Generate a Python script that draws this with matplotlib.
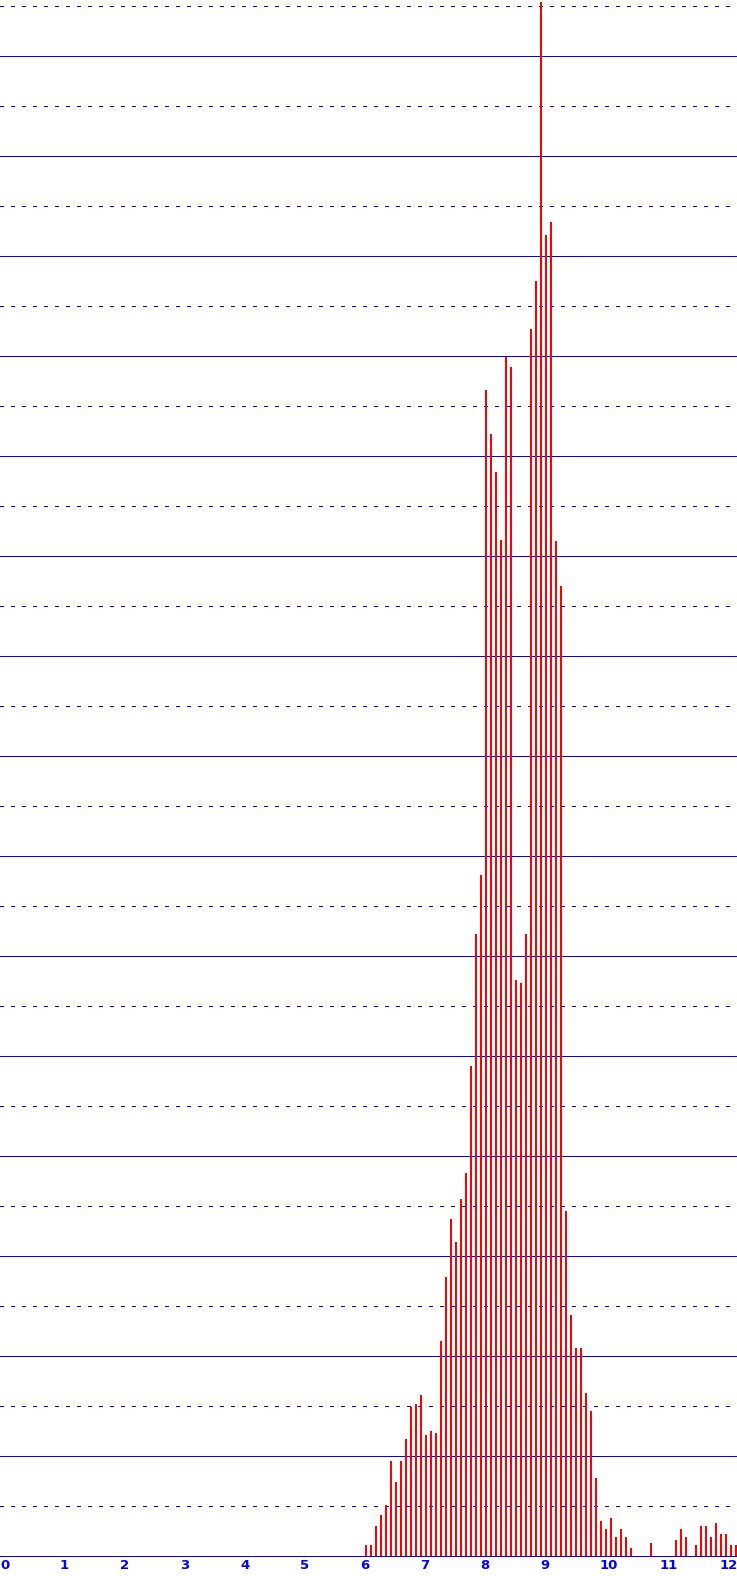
import numpy as np
import matplotlib
matplotlib.use("Agg")
import matplotlib.pyplot as plt

# ---- data ----
bin_start = 6.1
bin_width = 1 / 12
counts = [2.2, 2.2, 6.0, 8.2, 10.2, 19.0, 14.8, 19.0, 23.4, 29.8,
          30.4, 32.2, 24.2, 25.0, 24.6, 43.0, 55.8, 67.4, 62.8, 71.4,
          76.6, 98.0, 124.4, 136.2, 233.2, 224.4, 216.8, 203.2, 239.8, 237.8,
          115.2, 114.6, 124.4, 245.4, 255.0, 310.8, 264.2, 266.8, 203.0, 194.0,
          69.0, 48.2, 41.6, 41.6, 32.6, 29.0, 15.6, 7.0, 5.4, 7.6,
          3.8, 5.4, 3.8, 1.6, 0, 0, 0, 2.6, 0, 0,
          0, 0, 3.2, 5.4, 3.8, 0, 2.2, 6.0, 6.0, 3.8,
          6.6, 4.4, 4.4, 2.2, 2.2]
x_ticks = list(range(0, 13))
x_tick_labels = [str(t) for t in x_ticks]

# ---- figure ----
W, H, DPI = 737, 1576, 100
fig = plt.figure(figsize=(W / DPI, H / DPI), dpi=DPI)
ax = fig.add_axes([0, 20 / H, 1, 1556 / H])

px_per_unit = 60.0
x_max = W / px_per_unit
y_top = 311.2
ax.set_xlim(0, x_max)
ax.set_ylim(0, y_top)

blue = "#0000ff"
red = "#ff0000"
lw = 0.72  # 1 px

# grid lines
for lev in np.arange(10, y_top, 10):
    if int(round(lev)) % 20 == 0:
        ax.axhline(lev, color=blue, lw=lw, zorder=1, antialiased=False)
    else:
        ax.axhline(lev, color=blue, lw=lw, zorder=1, dashes=(3, 7),
                   antialiased=False)

# bars: 2 px wide filled rectangles
xs = bin_start + np.arange(len(counts)) * bin_width
ax.bar(xs, counts, width=2 / px_per_unit, color=red, linewidth=0,
       antialiased=False, snap=False, zorder=2, align="center")

# axes styling
for s in ["top", "left", "right"]:
    ax.spines[s].set_visible(False)
ax.spines["bottom"].set_color(blue)
ax.spines["bottom"].set_linewidth(lw)
ax.spines["bottom"].set_zorder(3)
ax.set_yticks([])
ax.set_xticks(x_ticks)
ax.set_xticklabels(x_tick_labels, color=blue, fontsize=9.5, fontweight="bold",
                   family="DejaVu Sans")
ax.tick_params(axis="x", length=0, pad=2)
plt.setp(ax.get_xticklabels(), ha="left")

fig.savefig("out.png", dpi=DPI)
